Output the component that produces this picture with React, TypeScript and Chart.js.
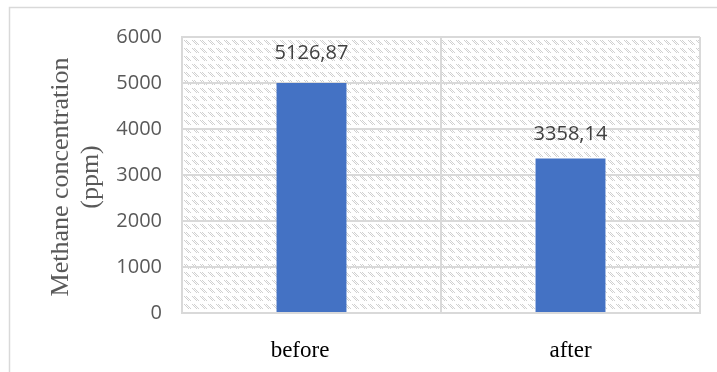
import React, { useEffect, useRef } from "react";
import { Chart, registerables } from "chart.js";

Chart.register(...registerables);

const categories = ["before    ", "after"];
const barValues = [5000, 3358.14];
const labelValues = [5126.87, 3358.14];
const labelTexts = ["5126,87", "3358,14"];
const yMin = 0;
const yMax = 6000;
const yStep = 1000;
const yTitleLines = ["Methane concentration", "(ppm)"];

function makePattern(ctx: CanvasRenderingContext2D) {
  const c = document.createElement("canvas");
  c.width = 8;
  c.height = 8;
  const g = c.getContext("2d")!;
  g.fillStyle = "#ffffff";
  g.fillRect(0, 0, 8, 8);
  g.fillStyle = "#d0d0d0";
  for (let r = 0; r < 5; r++) {
    for (let k = 0; k < 3; k++) {
      const col = (r + k) % 8;
      if ((col + r) % 2 === 0) g.fillRect(col, r, 1, 1);
    }
  }
  return ctx.createPattern(c, "repeat");
}

const decorPlugin = {
  id: "decor",
  beforeDraw(chart: any) {
    const { ctx, chartArea } = chart;
    ctx.save();
    ctx.fillStyle = "#ffffff";
    ctx.fillRect(0, 0, chart.width, chart.height);
    ctx.strokeStyle = "#d9d9d9";
    ctx.lineWidth = 1.5;
    ctx.strokeRect(9.5, 7.5, chart.width + 20, chart.height + 20);
    const pat = makePattern(ctx);
    if (pat) {
      ctx.fillStyle = pat;
      ctx.fillRect(chartArea.left, chartArea.top, chartArea.right - chartArea.left, chartArea.bottom - chartArea.top);
    }
    ctx.restore();
  },
  afterDraw(chart: any) {
    const { ctx } = chart;
    const meta = chart.getDatasetMeta(0);
    const yScale = chart.scales.y;
    ctx.save();
    ctx.fillStyle = "#404040";
    ctx.font = "20px 'Open Sans'";
    ctx.textAlign = "center";
    ctx.textBaseline = "middle";
    meta.data.forEach((bar: any, i: number) => {
      const y = yScale.getPixelForValue(labelValues[i]) - 24;
      ctx.fillText(labelTexts[i], bar.x, y);
    });
    ctx.fillStyle = "#595959";
    ctx.font = "26px 'Liberation Serif'";
    const yc = (chart.chartArea.top + chart.chartArea.bottom) / 2 + 2;
    const xs = [61, 91];
    yTitleLines.forEach((line, i) => {
      ctx.save();
      ctx.translate(xs[i], yc);
      ctx.rotate(-Math.PI / 2);
      ctx.fillText(line, 0, 0);
      ctx.restore();
    });
    ctx.restore();
  },
};

export default function App() {
  const ref = useRef<HTMLCanvasElement>(null);
  useEffect(() => {
    document.body.style.margin = "0";
    const canvas = ref.current!;
    const chart = new Chart(canvas, {
      type: "bar",
      data: {
        labels: categories,
        datasets: [
          {
            data: barValues,
            backgroundColor: "#4472C4",
            borderWidth: 0,
            categoryPercentage: 0.54,
            barPercentage: 0.5,
          },
        ],
      },
      options: {
        animation: false,
        responsive: false,
        devicePixelRatio: 1,
        layout: { padding: { left: 0, right: 17, top: 37, bottom: 0 } },
        plugins: {
          legend: { display: false },
          tooltip: { enabled: false },
          title: { display: false },
        },
        scales: {
          x: {
            grid: { color: "#d9d9d9", lineWidth: 2, drawTicks: false, offset: true },
            border: { display: true, color: "#d9d9d9", width: 2 },
            ticks: {
              color: "#000000",
              font: { family: "'Liberation Serif'", size: 23 },
              padding: 24,
            },
            afterFit: (s: any) => {
              s.height = 59;
            },
          },
          y: {
            min: yMin,
            max: yMax,
            grid: { color: "#d9d9d9", lineWidth: 2, drawTicks: false },
            border: { display: true, color: "#d9d9d9", width: 2 },
            ticks: {
              stepSize: yStep,
              color: "#595959",
              font: { family: "'Open Sans'", size: 20 },
              padding: 20,
              callback: (v: any) => String(v),
            },
            afterFit: (s: any) => {
              s.width = 182;
            },
          },
        },
      },
      plugins: [decorPlugin],
    });
    return () => chart.destroy();
  }, []);
  return <canvas ref={ref} width={717} height={372} style={{ display: "block" }} />;
}
